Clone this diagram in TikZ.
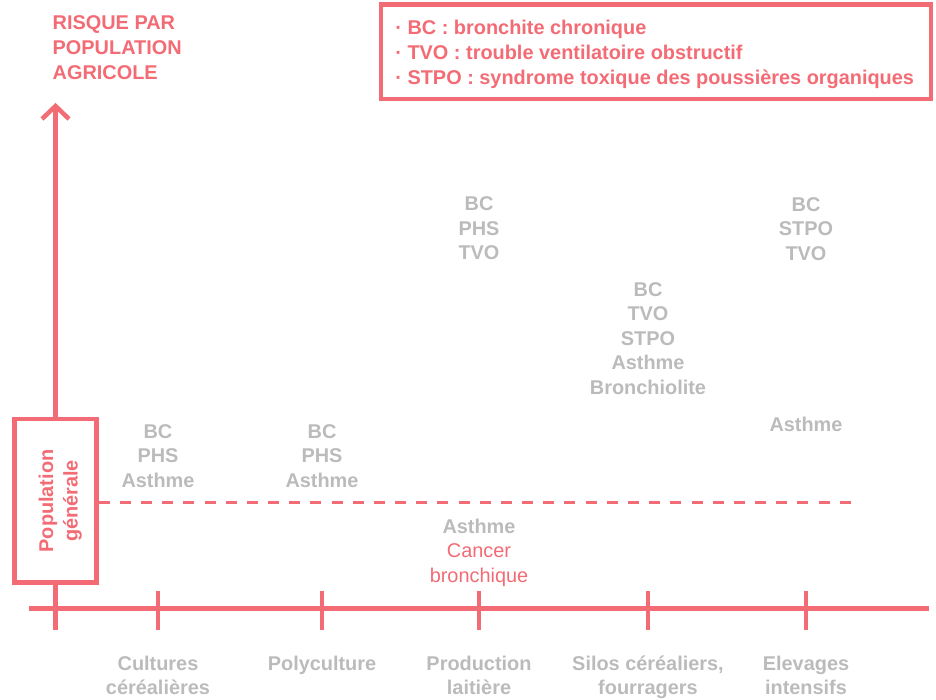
\documentclass[tikz,border=0pt]{standalone}
\usepackage{fontspec}
\setmainfont{Liberation Sans}
\definecolor{pk}{HTML}{F36B74}
\definecolor{gr}{HTML}{BBBBBB}
\tikzset{
  axisline/.style={draw=pk, line width=4.5pt},
  dashline/.style={draw=pk, line width=3pt, dash pattern=on 11pt off 10.17pt},
  greytxt/.style={font=\fontsize{19.9}{24.5}\selectfont\bfseries, text=gr, align=center, inner sep=0pt},
  pinkhead/.style={font=\fontsize{19.9}{25}\selectfont\bfseries, text=pk, align=left, inner sep=0pt, anchor=north west},
  pgbox/.style={draw=pk, line width=4.5pt, minimum width=82pt, minimum height=163.5pt, inner sep=0pt},
}
\begin{document}
\begin{tikzpicture}[x=1pt,y=-1pt]
\useasboundingbox (0,0) rectangle (936,699);

% title
\node[pinkhead] (title) at (52.5,11.9) {\strut RISQUE PAR\\\strut POPULATION\\\strut AGRICOLE};

% legend
\draw[axisline] (381,4.5) rectangle (931,99);
\node[pinkhead] (legend) at (395.2,16.6) {\strut · BC : bronchite chronique\\\strut · TVO : trouble ventilatoire obstructif\\\strut · STPO : syndrome toxique des poussières organiques};

% population generale box
\node[pgbox] (pg) at (55.5,500.75) {};
\node[font=\fontsize{19.9}{24.5}\selectfont\bfseries, text=pk, align=center, inner sep=0pt, rotate=90] (pgtxt) at (60.5,501) {\strut Population\\\strut générale};

% axes
\coordinate (vtop) at (55.5,106);
\coordinate (vbot) at (55.5,630);
\coordinate (hl) at (29,608.7);
\coordinate (hr) at (929,608.7);
\draw[axisline] (pg.north) -- (vtop);
\draw[axisline, line join=miter] (42,119) -- (vtop) -- (69,119);
\draw[axisline] (pg.south) -- (vbot);
\draw[axisline] (hl) -- (hr);
\foreach \t/\xx in {t1/158,t2/322,t3/479,t4/648,t5/806}{
  \coordinate (\t a) at (\xx,591);
  \coordinate (\t b) at (\xx,630);
  \draw[axisline] (\t a) -- (\t b);
}

% dashed reference line
\coordinate (dr) at (851,502.5);
\draw[dashline] (pg.east |- dr) -- (dr);

% grey risk labels
\node[greytxt] (b1) at (158,457.7) {\strut BC\\\strut PHS\\\strut Asthme};
\node[greytxt] (b2) at (322,457.7) {\strut BC\\\strut PHS\\\strut Asthme};
\node[greytxt] (b3) at (479,230.2) {\strut BC\\\strut PHS\\\strut TVO};
\node[greytxt] (b3b) at (479,552.7) {\strut Asthme\\\strut\textcolor{pk}{\mdseries Cancer}\\\strut\textcolor{pk}{\mdseries bronchique}};
\node[greytxt] (b4) at (648,340.2) {\strut BC\\\strut TVO\\\strut STPO\\\strut Asthme\\\strut Bronchiolite};
\node[greytxt] (b5) at (806,230.7) {\strut BC\\\strut STPO\\\strut TVO};
\node[greytxt] (b5b) at (806,426.5) {\strut Asthme};

% category labels
\node[greytxt] (c1) at (158,677.5) {\strut Cultures\\\strut céréalières};
\node[greytxt] (c2) at (322,665.2) {\strut Polyculture};
\node[greytxt] (c3) at (479,677.5) {\strut Production\\\strut laitière};
\node[greytxt] (c4) at (648,677.5) {\strut Silos céréaliers,\\\strut fourragers};
\node[greytxt] (c5) at (806,677.5) {\strut Elevages\\\strut intensifs};
\end{tikzpicture}
\end{document}
